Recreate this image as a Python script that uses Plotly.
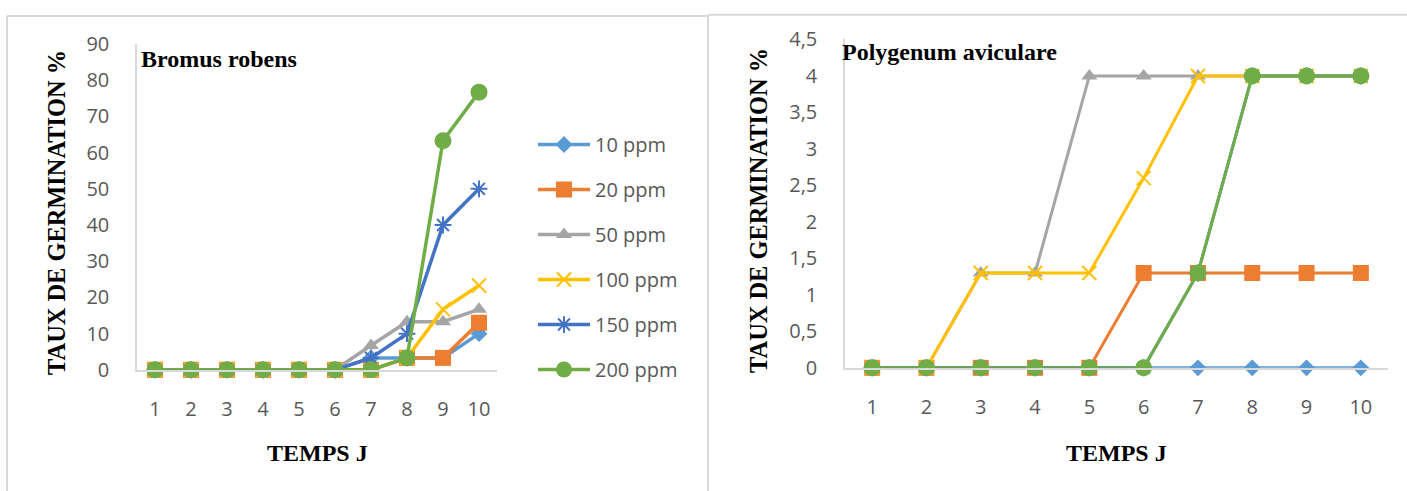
import plotly.graph_objects as go

# ---------------- data ----------------
days = [1, 2, 3, 4, 5, 6, 7, 8, 9, 10]
series_names = ["10 ppm", "20 ppm", "50 ppm", "100 ppm", "150 ppm", "200 ppm"]

# Bromus robens (left chart), germination %
bromus_10 = [0, 0, 0, 0, 0, 0, 3.3, 3.3, 3.3, 10]
bromus_20 = [0, 0, 0, 0, 0, 0, 0, 3.3, 3.3, 13]
bromus_50 = [0, 0, 0, 0, 0, 0, 6.7, 13.3, 13.3, 16.7]
bromus_100 = [0, 0, 0, 0, 0, 0, 0, 3.3, 16.7, 23.3]
bromus_150 = [0, 0, 0, 0, 0, 0, 3.3, 10, 40, 50]
bromus_200 = [0, 0, 0, 0, 0, 0, 0, 3.3, 63.3, 76.7]

# Polygenum aviculare (right chart), germination %
poly_10 = [0, 0, 0, 0, 0, 0, 0, 0, 0, 0]
poly_20 = [0, 0, 0, 0, 0, 1.3, 1.3, 1.3, 1.3, 1.3]
poly_50 = [0, 0, 1.3, 1.3, 4, 4, 4, 4, 4, 4]
poly_100 = [0, 0, 1.3, 1.3, 1.3, 2.6, 4, 4, 4, 4]
poly_150 = [0, 0, 0, 0, 0, 0, 1.3, 4, 4, 4]
poly_200 = [0, 0, 0, 0, 0, 0, 1.3, 4, 4, 4]

left_yticks = [0, 10, 20, 30, 40, 50, 60, 70, 80, 90]
right_yticks = [0, 0.5, 1, 1.5, 2, 2.5, 3, 3.5, 4, 4.5]
right_ytick_labels = ["0", "0,5", "1", "1,5", "2", "2,5", "3", "3,5", "4", "4,5"]
xtick_labels = ["1", "2", "3", "4", "5", "6", "7", "8", "9", "10"]

left_title = "Bromus robens"
right_title = "Polygenum aviculare"
x_title = "TEMPS J"
y_title = "TAUX DE GERMINATION %"

# ---------------- styles ----------------
colors = ["#5B9BD5", "#ED7D31", "#A5A5A5", "#FFC000", "#4472C4", "#70AD47"]
symbols = ["diamond", "square", "triangle-up", "x-thin-open", "asterisk-open", "circle"]
msizes = [13, 16, 14, 14, 14, 17]

left_data = [bromus_10, bromus_20, bromus_50, bromus_100, bromus_150, bromus_200]
right_data = [poly_10, poly_20, poly_50, poly_100, poly_150, poly_200]

TICK_FONT = dict(family="Open Sans", size=20, color="#595959")
TITLE_FONT = dict(family="Liberation Serif", size=24, color="#000000")
YTITLE_FONT = dict(family="Liberation Serif", size=24.4, color="#000000")
AXIS_COLOR = "#D9D9D9"

W = 1407
FIG_H = 505
# mapping from target picture rows to figure rows
OFF, S = 13.0, 0.947


def px(x):
    return x / W


def py(yt):
    yf = (yt - OFF) / S
    return 1 - yf / FIG_H


fig = go.Figure()


def marker(i):
    m = dict(symbol=symbols[i], size=msizes[i], color=colors[i])
    if symbols[i].endswith("-open"):
        m["line"] = dict(color=colors[i], width=2)
    else:
        m["line"] = dict(color=colors[i], width=0)
    return m


for i, name in enumerate(series_names):
    fig.add_trace(go.Scatter(
        x=days, y=left_data[i], name=name, mode="lines+markers",
        line=dict(color=colors[i], width=3.5), marker=marker(i),
        cliponaxis=False, legendgroup=name, xaxis="x", yaxis="y",
    ))
for i, name in enumerate(series_names):
    fig.add_trace(go.Scatter(
        x=days, y=right_data[i], name=name, mode="lines+markers",
        line=dict(color=colors[i], width=3), marker=marker(i),
        cliponaxis=False, showlegend=False, xaxis="x2", yaxis="y2",
    ))

axis_common = dict(showgrid=False, zeroline=False, showline=True, linecolor=AXIS_COLOR,
                   linewidth=1.5, tickfont=TICK_FONT, ticks="outside", ticklen=0)

fig.update_layout(
    width=W, height=FIG_H,
    margin=dict(l=0, r=0, t=0, b=0),
    paper_bgcolor="white", plot_bgcolor="white",
    xaxis=dict(domain=[px(137), px(497)], range=[0.5, 10.5], tickvals=days,
               ticktext=xtick_labels, anchor="y", ticklabelstandoff=20, **axis_common),
    yaxis=dict(domain=[py(369), py(43)], range=[0, 90], tickvals=left_yticks,
               anchor="x", ticklabelstandoff=22, **axis_common),
    xaxis2=dict(domain=[px(845), px(1388)], range=[0.5, 10.5], tickvals=days,
                ticktext=xtick_labels, anchor="y2", ticklabelstandoff=20, **axis_common),
    yaxis2=dict(domain=[py(367), py(38.5)], range=[0, 4.5], tickvals=right_yticks,
                ticktext=right_ytick_labels, anchor="x2", ticklabelstandoff=22, **axis_common),
    legend=dict(x=px(533), y=1 - 117.3 / FIG_H, xanchor="left", yanchor="top",
                font=dict(family="Open Sans", size=20, color="#595959"),
                itemwidth=52, tracegroupgap=16, bgcolor="rgba(0,0,0,0)"),
    showlegend=True,
)

border = dict(color=AXIS_COLOR, width=2)
top_left = 1 - 2.0 / FIG_H
top_right = 1 - 0.8 / FIG_H
fig.add_shape(type="line", xref="paper", yref="paper", x0=px(7), x1=px(708), y0=top_left, y1=top_left, line=border)
fig.add_shape(type="line", xref="paper", yref="paper", x0=px(7), x1=px(7), y0=top_left, y1=0, line=border)
fig.add_shape(type="line", xref="paper", yref="paper", x0=px(708), x1=px(708), y0=top_right, y1=0, line=border)
fig.add_shape(type="line", xref="paper", yref="paper", x0=px(708), x1=1, y0=top_right, y1=top_right, line=border)

ann = [
    dict(text="<b>%s</b>" % left_title, x=px(139), y=py(58), xanchor="left", yanchor="middle", font=TITLE_FONT),
    dict(text="<b>%s</b>" % right_title, x=px(840), y=py(51), xanchor="left", yanchor="middle", font=TITLE_FONT),
    dict(text="<b>%s</b>" % x_title, x=px(317), y=py(452), xanchor="center", yanchor="middle", font=TITLE_FONT),
    dict(text="<b>%s</b>" % x_title, x=px(1116), y=py(452), xanchor="center", yanchor="middle", font=TITLE_FONT),
    dict(text="<b>%s</b>" % y_title, x=px(57), y=py(212), xanchor="center", yanchor="middle",
         textangle=-90, font=YTITLE_FONT),
    dict(text="<b>%s</b>" % y_title, x=px(759), y=py(210), xanchor="center", yanchor="middle",
         textangle=-90, font=YTITLE_FONT),
]
for a in ann:
    fig.add_annotation(xref="paper", yref="paper", showarrow=False, **a)

fig.write_html("out.html")
